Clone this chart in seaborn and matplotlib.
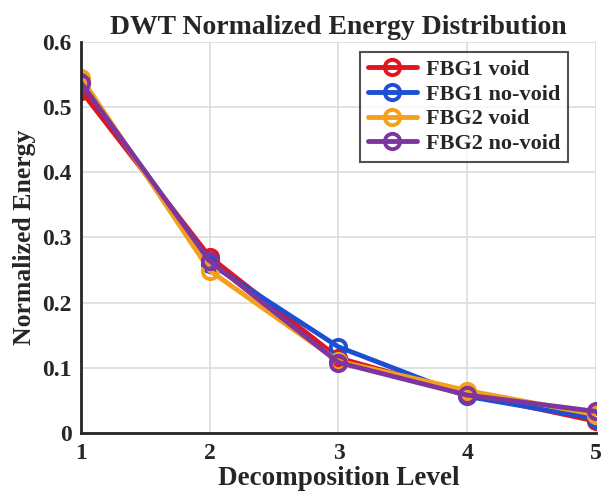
import pandas as pd
import matplotlib
matplotlib.use("Agg")
import matplotlib.pyplot as plt
import seaborn as sns

# Dados
niveis = [1, 2, 3, 4, 5]
fbg1_void = [0.525, 0.270, 0.115, 0.060, 0.018]
fbg1_novoid = [0.538, 0.260, 0.132, 0.056, 0.022]
fbg2_void = [0.545, 0.249, 0.110, 0.065, 0.028]
fbg2_novoid = [0.537, 0.264, 0.108, 0.058, 0.033]

series = {
    'FBG1 void': fbg1_void,
    'FBG1 no-void': fbg1_novoid,
    'FBG2 void': fbg2_void,
    'FBG2 no-void': fbg2_novoid,
}
cores = ['#E0161E', '#1C4FD2', '#F5A01A', '#7E359F']

sns.set_style("whitegrid")
plt.rcParams['font.family'] = ['Liberation Serif', 'DejaVu Serif']
plt.rcParams['font.weight'] = 'bold'

fig = plt.figure(figsize=(6.06, 5.01), dpi=100)
ax = fig.add_axes([0.134, 0.136, 0.849, 0.780])

for (nome, valores), cor in zip(series.items(), cores):
    df = pd.DataFrame({'Nivel': niveis, 'Energia': valores})
    sns.lineplot(data=df, x='Nivel', y='Energia', ax=ax, color=cor, lw=3.5,
                 marker='o', markersize=11, markerfacecolor='none',
                 markeredgecolor=cor, markeredgewidth=2.8, label=nome)

ax.set_xlim(1, 5)
ax.set_ylim(0, 0.6)
ax.set_xticks(niveis)
ax.set_yticks([0, 0.1, 0.2, 0.3, 0.4, 0.5, 0.6])
ax.set_yticklabels(['0', '0.1', '0.2', '0.3', '0.4', '0.5', '0.6'])
ax.grid(True, color='#dcdcdc', lw=1.2)
for lado in ['top', 'right']:
    ax.spines[lado].set_visible(False)
for lado in ['left', 'bottom']:
    ax.spines[lado].set_color('#262626')
    ax.spines[lado].set_linewidth(2)
ax.tick_params(axis='both', direction='in', length=5, width=1.5,
               labelsize=17, colors='#262626', pad=7)
for t in ax.get_xticklabels() + ax.get_yticklabels():
    t.set_fontweight('bold')

ax.set_title('DWT Normalized Energy Distribution', fontsize=20, fontweight='bold', pad=6)
ax.set_xlabel('Decomposition Level', fontsize=19.5, fontweight='bold', color='#262626',
              labelpad=2)
ax.set_ylabel('Normalized Energy', fontsize=18.5, fontweight='bold', color='#262626',
              labelpad=4)

leg = ax.legend(loc='upper right', bbox_to_anchor=(0.946, 0.975), fontsize=16,
                frameon=True, fancybox=False, handlelength=2.2, borderpad=0.35,
                labelspacing=0.18, handletextpad=0.4, borderaxespad=0)
leg.get_frame().set_edgecolor('#262626')
leg.get_frame().set_linewidth(1.5)
for t in leg.get_texts():
    t.set_fontweight('bold')

plt.savefig('out.png', dpi=100)
